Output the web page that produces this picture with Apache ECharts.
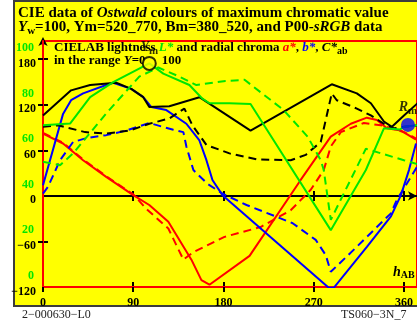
<!DOCTYPE html>
<html>
<head>
<meta charset="utf-8">
<script src="https://cdn.jsdelivr.net/npm/echarts@6/dist/echarts.min.js"></script>
<style>
html, body { margin: 0; padding: 0; background: #fff; }
#chart { width: 417px; height: 320px; }
</style>
</head>
<body>
<div id="chart"></div>
<script>
// hue angle h_AB (deg) and values
// chroma C*ab, solid and dashed
const hueC1 = [0, 28, 47, 73, 88, 100, 106, 126, 156, 207, 288, 313, 327, 340, 348, 360, 388];
const chroma1 = [106, 139, 146, 149, 141, 130, 117, 118, 130, 86, 147, 135, 122, 98, 91, 106, 139];
const hueC2 = [0, 15, 42, 63, 86, 106, 126, 141, 149, 163, 186, 214, 247, 262, 277, 288, 293, 313, 327, 340, 350, 360, 375];
const chroma2 = [91, 93, 84, 82, 86, 95, 102, 115, 93, 67, 56, 48, 47, 54, 71, 135, 126, 115, 106, 95, 89, 91, 93];

// lightness L*, solid and dashed (own scale, green labels)
const hueL1 = [0, 27, 47, 70, 106, 120, 146, 159, 166, 186, 207, 287, 322, 340, 356, 360, 387];
const light1 = [64.3, 65.1, 76.7, 83.3, 91.5, 87, 82, 76, 74, 74, 73.7, 18.3, 44.7, 63, 62.5, 63.7, 65];
const hueL2 = [0, 17, 30, 63, 96, 115, 136, 153, 182, 201, 240, 264, 277, 280, 287, 322, 360, 377];
const light2 = [48.3, 46.8, 52, 69.5, 85.7, 89.7, 85.7, 82, 83.8, 84.3, 71, 59.3, 49, 44.7, 22.8, 54, 49, 46.8];

// a* (red), solid and dashed
const hueA1 = [0, 20, 40, 63, 90, 106, 125, 148, 158, 166, 206, 257, 287, 307, 323, 333, 343, 357, 372];
const redA1 = [82, 69, 47, 25, 1, -12, -34, -84, -111, -117, -79, 21, 78, 95, 103, 100, 89, 86, 74];
const hueA2 = [0, 20, 40, 63, 90, 103, 125, 140, 150, 181, 217, 247, 267, 280, 287, 297, 320, 337, 350, 360, 380];
const redA2 = [83, 70, 48, 26, 2, -17, -43, -84, -74, -54, -41, -19, 8, 34, 65, 84, 96, 93, 88, 84, 70];

// b* (blue), solid and dashed
const hueB1 = [0, 20, 28, 40, 63, 70, 88, 100, 108, 123, 143, 156, 163, 169, 179, 285, 290, 323, 347, 357, 365, 372];
const blueB1 = [14, 108, 126, 135, 146, 149, 141, 130, 117, 113, 95, 73, 47, 21, 1, -121, -121, -67, -27, 1, 34, 69];
const hueB2 = [0, 5, 17, 30, 43, 63, 83, 106, 130, 140, 143, 150, 164, 179, 203, 232, 249, 272, 282, 287, 313, 333, 347, 353, 360, 377];
const blueB2 = [3, 12, 47, 71, 76, 80, 86, 96, 87, 84, 65, 34, 16, 3, -12, -27, -36, -58, -78, -100, -67, -41, -23, -5, 10, 47];

// marked points on the L* curve
const pointYm = [106, 91.5];
const pointRm = [364, 64.5];

const chromaTicks = [-120, -60, 0, 60, 120, 180];
const chromaMinor = [-60, 60, 120, 180];
const lightTicks = [0, 20, 40, 60, 80, 100];
const hueTicks = [0, 90, 180, 270, 360];

const FONT = "'Liberation Serif', 'Times New Roman', serif";
const GREEN = '#00e600';

function pairs(h, v) {
  return h.map((x, i) => [x, v[i]]);
}

function curve(h, v, color, dashed, yIdx) {
  return {
    type: 'line',
    yAxisIndex: yIdx,
    data: pairs(h, v),
    symbol: 'none',
    lineStyle: { color: color, width: 2, type: dashed ? [8, 5] : 'solid' },
    silent: true
  };
}

const chart = echarts.init(document.getElementById('chart'));

const labelBold = { fontFamily: FONT, fontWeight: 'bold', fontSize: 12, color: '#000' };
const minus = (v) => String(v).replace('-', '\u2212');

const option = {
  animation: false,
  backgroundColor: 'transparent',
  grid: {
    left: 43, right: -2, top: 41, bottom: 33,
    show: true, borderColor: '#ff0000', borderWidth: 2, backgroundColor: 'transparent'
  },
  xAxis: [
    {
      type: 'value', min: 0, max: 373, position: 'bottom', z: 1,
      axisLine: { onZero: false, lineStyle: { color: '#ff0000', width: 2 } },
      axisTick: { length: 5, customValues: hueTicks, lineStyle: { color: '#000', width: 2 } },
      axisLabel: Object.assign({ customValues: hueTicks, margin: 10 }, labelBold),
      splitLine: { show: false }
    },
    {
      type: 'value', min: 0, max: 373, position: 'bottom',
      axisLine: { show: false, onZero: false },
      axisTick: { inside: true, length: 5, customValues: hueTicks, lineStyle: { color: '#000', width: 2 } },
      axisLabel: { show: false },
      splitLine: { show: false }
    },
    {
      type: 'value', min: 0, max: 373, position: 'bottom',
      axisLine: { onZero: true, onZeroAxisIndex: 0, symbol: ['none', 'arrow'], symbolSize: [7, 9], lineStyle: { color: '#000', width: 2 } },
      axisTick: { length: 5, customValues: hueTicks, lineStyle: { color: '#000', width: 2 } },
      axisLabel: { show: false },
      splitLine: { show: false }
    },
    {
      type: 'value', min: 0, max: 373, position: 'bottom',
      axisLine: { show: false, onZero: true, onZeroAxisIndex: 0 },
      axisTick: { inside: true, length: 5, customValues: hueTicks, lineStyle: { color: '#000', width: 2 } },
      axisLabel: { show: false },
      splitLine: { show: false }
    }
  ],
  yAxis: [
    {
      type: 'value', min: -120, max: 204, position: 'left', z: 1,
      axisLine: { onZero: false, lineStyle: { color: '#ff0000', width: 2 } },
      axisTick: { show: true, length: 5, customValues: chromaMinor, lineStyle: { color: '#000', width: 2 } },
      axisLabel: Object.assign({
        customValues: chromaTicks, margin: 7, verticalAlign: 'top', lineHeight: 9,
        hideOverlap: false, formatter: minus
      }, labelBold),
      splitLine: { show: false }
    },
    {
      type: 'value', min: -20 / 3, max: 304 / 3, position: 'left', z: 0,
      axisLine: { show: true, onZero: false, symbol: ['none', 'arrow'], symbolSize: [7, 9], symbolOffset: [0, 4], lineStyle: { color: '#000', width: 2 } },
      axisTick: { show: false },
      axisLabel: Object.assign({}, labelBold, {
        color: GREEN, customValues: lightTicks, margin: 9, verticalAlign: 'top', lineHeight: 8,
        showMaxLabel: true, showMinLabel: true, hideOverlap: false
      }),
      splitLine: { show: false }
    },
    {
      type: 'value', min: -120, max: 204, position: 'left',
      axisLine: { show: false, onZero: false },
      axisTick: { show: true, inside: true, length: 5, customValues: chromaMinor, lineStyle: { color: '#000', width: 2 } },
      axisLabel: { show: false },
      splitLine: { show: false }
    }
  ],
  series: [
    curve(hueA2, redA2, '#ff0000', true, 0),
    curve(hueA1, redA1, '#ff0000', false, 0),
    curve(hueB2, blueB2, '#0000ff', true, 0),
    curve(hueB1, blueB1, '#0000ff', false, 0),
    curve(hueC2, chroma2, '#000000', true, 0),
    curve(hueC1, chroma1, '#000000', false, 0),
    curve(hueL2, light2, GREEN, true, 1),
    curve(hueL1, light1, GREEN, false, 1),
    {
      type: 'scatter', yAxisIndex: 1, data: [pointYm], symbolSize: 13, z: 5,
      itemStyle: { color: '#ffff00', borderColor: '#000', borderWidth: 2 },
      label: {
        show: true, position: 'top', distance: -1, formatter: '{i|Y}{s|m}',
        rich: {
          i: { fontFamily: FONT, fontWeight: 'bold', fontStyle: 'italic', fontSize: 14, color: '#000' },
          s: { fontFamily: FONT, fontWeight: 'bold', fontSize: 11, color: '#000', padding: [8, 0, 0, 0] }
        }
      }
    },
    {
      type: 'scatter', yAxisIndex: 1, data: [pointRm], symbolSize: 14, z: 5,
      itemStyle: { color: '#0000ff' },
      label: {
        show: true, position: 'top', distance: 1, formatter: '{i|R}{s|m}',
        rich: {
          i: { fontFamily: FONT, fontWeight: 'bold', fontStyle: 'italic', fontSize: 14, color: '#000' },
          s: { fontFamily: FONT, fontWeight: 'bold', fontSize: 11, color: '#000', padding: [8, 0, 0, 0] }
        }
      }
    }
  ],
  graphic: [
    {
      type: 'rect', z: -10, silent: true,
      shape: { x: 14, y: 1, width: 420, height: 305 },
      style: { fill: '#ffff00', stroke: '#3c3c3c', lineWidth: 2 }
    },
    {
      type: 'text', x: 18, y: 13, silent: true,
      style: {
        text: '{b|CIE data of }{bi|Ostwald}{b| colours of maximum chromatic value}',
        verticalAlign: 'middle',
        rich: {
          b: { fontFamily: FONT, fontWeight: 'bold', fontSize: 15, fill: '#000' },
          bi: { fontFamily: FONT, fontWeight: 'bold', fontStyle: 'italic', fontSize: 15, fill: '#000' }
        }
      }
    },
    {
      type: 'text', x: 18, y: 27, silent: true,
      style: {
        text: '{bi|Y}{s|w}{b|=100, Ym=520_770, Bm=380_520, and P00-}{bi|sRGB}{b| data}',
        verticalAlign: 'middle',
        rich: {
          b: { fontFamily: FONT, fontWeight: 'bold', fontSize: 15, fill: '#000' },
          bi: { fontFamily: FONT, fontWeight: 'bold', fontStyle: 'italic', fontSize: 15, fill: '#000' },
          s: { fontFamily: FONT, fontWeight: 'bold', fontSize: 11, fill: '#000', padding: [8, 0, 0, 0] }
        }
      }
    },
    {
      type: 'text', x: 54, y: 48, silent: true,
      style: {
        text: '{b|CIELAB lightness }{g|L*}{b| and radial chroma }{r|a*}{b|, }{u|b*}{b|, }{k|C*}{s|ab}',
        verticalAlign: 'middle',
        rich: {
          b: { fontFamily: FONT, fontWeight: 'bold', fontSize: 13, fill: '#000' },
          g: { fontFamily: FONT, fontWeight: 'bold', fontStyle: 'italic', fontSize: 13, fill: GREEN },
          r: { fontFamily: FONT, fontWeight: 'bold', fontStyle: 'italic', fontSize: 13, fill: '#ff0000' },
          u: { fontFamily: FONT, fontWeight: 'bold', fontStyle: 'italic', fontSize: 13, fill: '#0000ff' },
          k: { fontFamily: FONT, fontWeight: 'bold', fontStyle: 'italic', fontSize: 13, fill: '#000' },
          s: { fontFamily: FONT, fontWeight: 'bold', fontSize: 10, fill: '#000', padding: [7, 0, 0, 0] }
        }
      }
    },
    {
      type: 'text', x: 54, y: 61, silent: true,
      style: {
        text: '{b|in the range }{bi|Y}{b|=0     100}',
        verticalAlign: 'middle',
        rich: {
          b: { fontFamily: FONT, fontWeight: 'bold', fontSize: 13, fill: '#000' },
          bi: { fontFamily: FONT, fontWeight: 'bold', fontStyle: 'italic', fontSize: 13, fill: '#000' }
        }
      }
    },
    {
      type: 'text', x: 393, y: 272, silent: true,
      style: {
        text: '{i|h}{s|AB}',
        verticalAlign: 'middle',
        rich: {
          i: { fontFamily: FONT, fontWeight: 'bold', fontStyle: 'italic', fontSize: 14, fill: '#000' },
          s: { fontFamily: FONT, fontWeight: 'bold', fontSize: 10, fill: '#000', padding: [7, 0, 0, 0] }
        }
      }
    },
    {
      type: 'text', x: 22, y: 315, silent: true,
      style: { text: '2\u2212000630\u2212L0', verticalAlign: 'middle', font: '12px ' + FONT, fill: '#222' }
    },
    {
      type: 'text', x: 341, y: 315, silent: true,
      style: { text: 'TS060\u22123N_7', verticalAlign: 'middle', font: '12px ' + FONT, fill: '#222' }
    }
  ]
};

chart.setOption(option);
</script>
</body>
</html>
